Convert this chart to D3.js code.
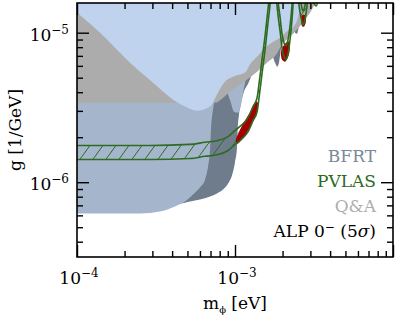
<!DOCTYPE html>
<html>
<head>
<meta charset="utf-8">
<script src="https://cdn.jsdelivr.net/npm/d3@7"></script>
<style>
  body { margin: 0; background: #fff; }
  svg { display: block; }
  text { font-family: "DejaVu Serif", serif; }
</style>
</head>
<body>
<div id="chart"></div>
<script>
// axis ranges (eV, 1/GeV)
var massDomain = [1e-4, 1e-2];
var couplingDomain = [3.16e-7, 1.58e-5];
var massMajorTicks = [1e-4, 1e-3, 1e-2];
var massMinorTicks = [2e-4, 3e-4, 4e-4, 5e-4, 6e-4, 7e-4, 8e-4, 9e-4, 2e-3, 3e-3, 4e-3, 5e-3, 6e-3, 7e-3, 8e-3, 9e-3];
var couplingMajorTicks = [1e-6, 1e-5];
var couplingMinorTicks = [4e-7, 5e-7, 6e-7, 7e-7, 8e-7, 9e-7, 2e-6, 3e-6, 4e-6, 5e-6, 6e-6, 7e-6, 8e-6, 9e-6];
var massTickLabels = ["−4", "−3"];
var couplingTickLabels = ["−6", "−5"];

// BFRT exclusion (dark), lower edge
var bfrtMass = [1.0e-4, 4.49e-4, 5.19e-4, 6.00e-4, 6.95e-4, 7.69e-4, 8.40e-4, 9.04e-4, 9.57e-4, 1.00e-3, 1.03e-3, 1.04e-3, 1.06e-3, 1.09e-3, 1.14e-3, 1.21e-3, 1.28e-3, 1.44e-3, 1.57e-3, 1.71e-3, 1.79e-3, 1.85e-3, 1.90e-3, 1.95e-3, 2.07e-3, 2.23e-3, 2.33e-3, 2.40e-3, 2.47e-3, 2.54e-3, 2.62e-3, 2.77e-3, 2.86e-3, 2.94e-3, 3.03e-3, 3.12e-3];
var bfrtG = [7.21e-7, 7.21e-7, 7.43e-7, 7.66e-7, 8.02e-7, 8.41e-7, 8.93e-7, 9.80e-7, 1.11e-6, 1.36e-6, 1.71e-6, 2.25e-6, 2.83e-6, 3.36e-6, 4.04e-6, 4.56e-6, 5.24e-6, 6.03e-6, 6.81e-6, 7.13e-6, 6.31e-6, 5.93e-6, 6.31e-6, 7.69e-6, 8.97e-6, 1.00e-5, 1.08e-5, 1.00e-5, 9.84e-6, 1.10e-5, 1.22e-5, 1.34e-5, 1.38e-5, 1.47e-5, 1.56e-5, 1.70e-5];

// second blue-grey exclusion, lower edge
var blueGreyMass = [1.0e-4, 2.51e-4, 3.35e-4, 4.17e-4, 4.83e-4, 5.42e-4, 6.00e-4, 6.46e-4, 6.75e-4, 6.95e-4, 7.05e-4, 7.26e-4, 7.46e-4, 8.04e-4, 8.77e-4, 9.29e-4, 9.86e-4, 1.04e-3, 1.09e-3, 1.12e-3, 1.19e-3, 1.28e-3];
var blueGreyG = [6.18e-7, 6.18e-7, 6.37e-7, 6.89e-7, 7.43e-7, 8.28e-7, 9.23e-7, 1.04e-6, 1.27e-6, 1.65e-6, 2.25e-6, 3.06e-6, 3.56e-6, 4.04e-6, 4.04e-6, 3.56e-6, 2.96e-6, 2.92e-6, 3.25e-6, 3.85e-6, 5.66e-6, 1.70e-5];

// Q&A exclusion, lower edge
var qaMass = [1.0e-4, 7.46e-4, 8.28e-4, 9.29e-4, 1.19e-3, 1.38e-3, 1.62e-3, 1.82e-3, 1.98e-3, 2.23e-3, 2.47e-3, 2.65e-3, 2.86e-3, 3.07e-3, 3.30e-3];
var qaG = [3.40e-6, 3.40e-6, 3.62e-6, 4.04e-6, 4.85e-6, 5.48e-6, 6.40e-6, 7.13e-6, 8.32e-6, 9.40e-6, 1.05e-5, 1.15e-5, 1.28e-5, 1.43e-5, 1.70e-5];

// light blue exclusion, lower edge
var lightMass = [1.0e-4, 1.40e-4, 2.16e-4, 3.12e-4, 4.06e-4, 4.83e-4, 5.74e-4, 6.95e-4, 7.80e-4, 8.65e-4, 9.71e-4, 1.16e-3, 1.24e-3, 1.38e-3, 1.55e-3, 1.71e-3, 1.93e-3, 2.13e-3, 2.36e-3, 2.51e-3, 2.65e-3];
var lightG = [1.36e-5, 1.00e-5, 6.31e-6, 4.50e-6, 3.56e-6, 3.21e-6, 3.01e-6, 3.21e-6, 3.97e-6, 4.71e-6, 5.08e-6, 5.41e-6, 6.11e-6, 6.92e-6, 7.94e-6, 8.57e-6, 9.27e-6, 1.02e-5, 1.10e-5, 1.28e-5, 1.70e-5];

// PVLAS band, lower and upper edges
var pvlasMass = [1.0e-4, 2.90e-4, 5.19e-4, 6.46e-4, 7.80e-4, 9.04e-4, 1.00e-3, 1.11e-3, 1.21e-3, 1.30e-3, 1.38e-3, 1.42e-3, 1.48e-3, 1.55e-3, 1.62e-3, 1.67e-3, 1.71e-3, 1.74e-3, 1.77e-3, 1.82e-3, 1.87e-3, 1.93e-3, 1.98e-3, 2.04e-3, 2.10e-3, 2.16e-3, 2.23e-3, 2.30e-3, 2.34e-3, 2.40e-3, 2.43e-3, 2.47e-3, 2.54e-3, 2.62e-3, 2.69e-3, 2.77e-3, 2.86e-3, 2.94e-3, 2.98e-3, 3.07e-3, 3.16e-3, 3.26e-3, 3.35e-3, 3.45e-3, 3.56e-3];
var pvlasLow = [1.42e-6, 1.42e-6, 1.44e-6, 1.49e-6, 1.53e-6, 1.63e-6, 1.79e-6, 1.96e-6, 2.18e-6, 2.58e-6, 2.96e-6, 3.68e-6, 5.24e-6, 7.69e-6, 1.18e-5, 1.58e-5, 2.26e-5, 3.08e-5, 2.64e-5, 1.79e-5, 1.32e-5, 1.02e-5, 8.05e-6, 6.92e-6, 6.61e-6, 7.13e-6, 8.97e-6, 1.26e-5, 1.66e-5, 2.44e-5, 3.08e-5, 2.26e-5, 1.54e-5, 1.26e-5, 1.13e-5, 1.22e-5, 1.54e-5, 2.26e-5, 3.08e-5, 1.94e-5, 1.58e-5, 1.51e-5, 1.66e-5, 2.64e-5, 4.18e-5];
var pvlasHigh = [1.76e-6, 1.76e-6, 1.79e-6, 1.85e-6, 1.90e-6, 2.02e-6, 2.22e-6, 2.43e-6, 2.70e-6, 3.20e-6, 3.67e-6, 4.56e-6, 6.50e-6, 9.54e-6, 1.46e-5, 1.96e-5, 2.80e-5, 3.82e-5, 3.27e-5, 2.22e-5, 1.64e-5, 1.26e-5, 9.98e-6, 8.58e-6, 8.20e-6, 8.84e-6, 1.11e-5, 1.56e-5, 2.06e-5, 3.03e-5, 3.82e-5, 2.80e-5, 1.91e-5, 1.56e-5, 1.40e-5, 1.51e-5, 1.91e-5, 2.80e-5, 3.82e-5, 2.41e-5, 1.96e-5, 1.87e-5, 2.06e-5, 3.27e-5, 5.18e-5];

// ALP 0- (5 sigma) islands
var alpIsland1Mass = [1.01e-3, 1.04e-3, 1.12e-3, 1.23e-3, 1.30e-3, 1.36e-3, 1.40e-3, 1.38e-3, 1.30e-3, 1.19e-3, 1.11e-3, 1.04e-3];
var alpIsland1G = [1.90e-6, 2.08e-6, 2.43e-6, 2.88e-6, 3.25e-6, 3.46e-6, 3.36e-6, 2.96e-6, 2.54e-6, 2.15e-6, 1.93e-6, 1.81e-6];
var alpIsland2Mass = [2.01e-3, 2.10e-3, 2.20e-3, 2.23e-3, 2.20e-3, 2.13e-3, 2.07e-3, 1.98e-3, 1.95e-3];
var alpIsland2G = [8.05e-6, 8.57e-6, 8.71e-6, 8.05e-6, 7.24e-6, 6.61e-6, 6.40e-6, 6.61e-6, 7.35e-6];
var alpIsland3Mass = [2.62e-3, 2.69e-3, 2.81e-3, 2.81e-3, 2.74e-3, 2.65e-3, 2.62e-3];
var alpIsland3G = [1.28e-5, 1.32e-5, 1.30e-5, 1.18e-5, 1.10e-5, 1.11e-5, 1.20e-5];

var legendLabels = ["BFRT", "PVLAS", "Q&A"];
var legendColors = ["#7a8898", "#2c6b20", "#adadad"];

var plot = {left: 77, right: 393, top: 3, bottom: 257};

var x = d3.scaleLog().domain(massDomain).range([plot.left, plot.right]);
var y = d3.scaleLog().domain(couplingDomain).range([plot.bottom, plot.top]);

var svg = d3.select("#chart").append("svg")
  .attr("width", 395)
  .attr("height", 323);

var defs = svg.append("defs");
defs.append("clipPath").attr("id", "plot-clip")
  .append("rect")
  .attr("x", plot.left).attr("y", plot.top)
  .attr("width", plot.right - plot.left).attr("height", plot.bottom - plot.top);

// diagonal hatching for the PVLAS band
var hatch = defs.append("pattern").attr("id", "hatch")
  .attr("patternUnits", "userSpaceOnUse")
  .attr("width", 13).attr("height", 18);
hatch.append("path")
  .attr("d", "M-1,19.4 L14,-1.4")
  .attr("stroke", "#2c6b20").attr("stroke-width", 1).attr("fill", "none");

var zip = function (ms, gs) {
  return ms.map(function (m, i) { return [m, gs[i]]; });
};

// region above a lower edge, up to the top of the frame
var regionAbove = d3.area()
  .x(function (d) { return x(d[0]); })
  .y0(plot.top - 10)
  .y1(function (d) { return y(d[1]); })
  .curve(d3.curveMonotoneX);

var edge = d3.line()
  .x(function (d) { return x(d[0]); })
  .y(function (d) { return y(d[1]); })
  .curve(d3.curveMonotoneX);

var island = d3.line()
  .x(function (d) { return x(d[0]); })
  .y(function (d) { return y(d[1]); })
  .curve(d3.curveCardinalClosed.tension(0.3));

var layer = svg.append("g").attr("clip-path", "url(#plot-clip)");

layer.append("path").datum(zip(bfrtMass, bfrtG))
  .attr("d", regionAbove).attr("fill", "#6e7c8c");
layer.append("path").datum(zip(blueGreyMass, blueGreyG))
  .attr("d", regionAbove).attr("fill", "#a4b5cc");
layer.append("path").datum(zip(qaMass, qaG))
  .attr("d", regionAbove).attr("fill", "#acacac");
layer.append("path").datum(zip(lightMass, lightG))
  .attr("d", regionAbove).attr("fill", "#bfd2ee");

// PVLAS band
var band = d3.area()
  .x(function (d) { return x(d[0]); })
  .y0(function (d) { return y(d[1]); })
  .y1(function (d) { return y(d[2]); })
  .curve(d3.curveMonotoneX);
var pvlasData = pvlasMass.map(function (m, i) { return [m, pvlasLow[i], pvlasHigh[i]]; });
layer.append("path").datum(pvlasData)
  .attr("d", band).attr("fill", "url(#hatch)");

// ALP islands
[[alpIsland1Mass, alpIsland1G], [alpIsland2Mass, alpIsland2G], [alpIsland3Mass, alpIsland3G]].forEach(function (p) {
  layer.append("path").datum(zip(p[0], p[1]))
    .attr("d", island).attr("fill", "#a30000");
});

[pvlasLow, pvlasHigh].forEach(function (gs) {
  layer.append("path").datum(zip(pvlasMass, gs))
    .attr("d", edge)
    .attr("fill", "none")
    .attr("stroke", "#2c6b20")
    .attr("stroke-width", 1.6);
});

// frame
svg.append("rect")
  .attr("x", plot.left).attr("y", plot.top)
  .attr("width", plot.right - plot.left).attr("height", plot.bottom - plot.top)
  .attr("fill", "none").attr("stroke", "#000").attr("stroke-width", 1.6);

// inward ticks on all four sides
var ticks = function (axis, values, size, transform) {
  svg.append("g")
    .attr("transform", transform)
    .call(axis.tickValues(values).tickSize(-size).tickFormat(""))
    .call(function (g) {
      g.select(".domain").remove();
      g.selectAll("line").attr("stroke", "#000").attr("stroke-width", 1.4);
    });
};
ticks(d3.axisBottom(x), massMajorTicks, 12, "translate(0," + plot.bottom + ")");
ticks(d3.axisBottom(x), massMinorTicks, 6, "translate(0," + plot.bottom + ")");
ticks(d3.axisTop(x), massMajorTicks, 12, "translate(0," + plot.top + ")");
ticks(d3.axisTop(x), massMinorTicks, 6, "translate(0," + plot.top + ")");
ticks(d3.axisLeft(y), couplingMajorTicks, 12, "translate(" + plot.left + ",0)");
ticks(d3.axisLeft(y), couplingMinorTicks, 6, "translate(" + plot.left + ",0)");
ticks(d3.axisRight(y), couplingMajorTicks, 12, "translate(" + plot.right + ",0)");
ticks(d3.axisRight(y), couplingMinorTicks, 6, "translate(" + plot.right + ",0)");

// tick labels 10^n
var power = function (sel, exp) {
  sel.append("tspan").text("10");
  sel.append("tspan").attr("dy", -7).attr("font-size", 12).text(exp);
};
massMajorTicks.slice(0, 2).forEach(function (v, i) {
  svg.append("text")
    .attr("x", x(v) + 2).attr("y", 284)
    .attr("text-anchor", "middle")
    .attr("font-size", 17)
    .call(power, massTickLabels[i]);
});
couplingMajorTicks.forEach(function (v, i) {
  svg.append("text")
    .attr("x", 69).attr("y", y(v) + 8)
    .attr("text-anchor", "end")
    .attr("font-size", 17)
    .call(power, couplingTickLabels[i]);
});

// axis titles
var xTitle = svg.append("text")
  .attr("x", 235).attr("y", 309)
  .attr("text-anchor", "middle")
  .attr("font-size", 17);
xTitle.append("tspan").text("m");
xTitle.append("tspan").attr("dy", 4).attr("font-size", 10).text("ϕ");
xTitle.append("tspan").attr("dy", -4).text(" [eV]");

svg.append("text")
  .attr("transform", "translate(21,130) rotate(-90)")
  .attr("text-anchor", "middle")
  .attr("font-size", 17)
  .text("g  [1/GeV]");

// legend
legendLabels.forEach(function (label, i) {
  svg.append("text")
    .attr("x", 376).attr("y", 162 + i * 25)
    .attr("text-anchor", "end")
    .attr("font-size", 17)
    .attr("fill", legendColors[i])
    .text(label);
});
var alpLabel = svg.append("text")
  .attr("x", 376).attr("y", 237)
  .attr("text-anchor", "end")
  .attr("font-size", 17)
  .attr("fill", "#000");
alpLabel.append("tspan").text("ALP 0");
alpLabel.append("tspan").attr("dy", -6).attr("font-size", 12).text("−");
alpLabel.append("tspan").attr("dy", 6).text(" (5");
alpLabel.append("tspan").attr("font-style", "italic").text("σ");
alpLabel.append("tspan").text(")");
</script>
</body>
</html>
